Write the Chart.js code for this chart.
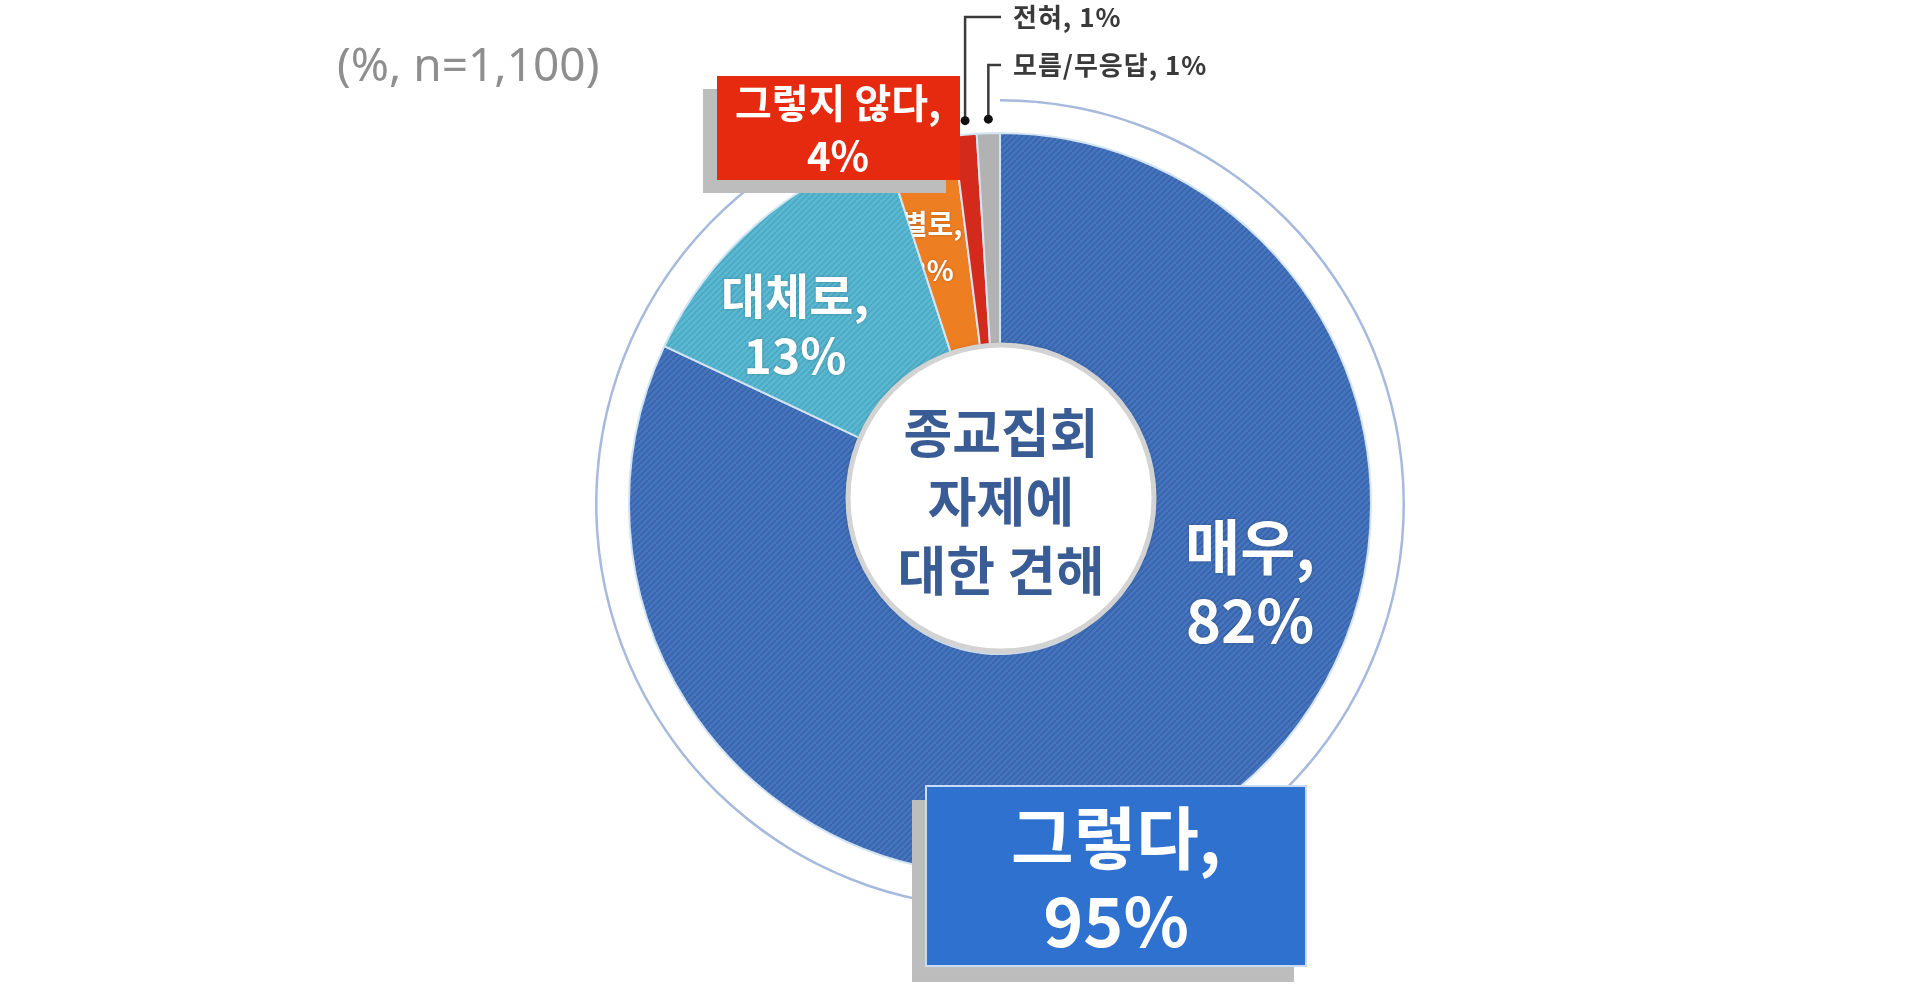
<!DOCTYPE html>
<html>
<head>
<meta charset="utf-8">
<script src="https://cdn.jsdelivr.net/npm/chart.js@4.4.0/dist/chart.umd.min.js"></script>
<style>
  html, body { margin: 0; padding: 0; background: #fff; }
  #wrap { width: 1920px; height: 996px; }
</style>
</head>
<body>
<div id="wrap"><canvas id="pie" width="1920" height="996" style="width:1920px;height:996px"></canvas></div>
<script>
// answers, clockwise from 12 o'clock
const categories = ["매우", "대체로", "별로", "전혀", "모름/무응답"];
const shares = [82, 13, 3, 1, 1];
// grouped answers (outer ring only marks the first one)
const groups = ["그렇다", "그렇지 않다", "모름/무응답"];
const groupShares = [95, 4, 1];
const note = "(%, n=1,100)";
const centerTitle = ["종교집회", "자제에", "대한 견해"];

const KR = "'Noto Sans CJK KR', 'Noto Sans', sans-serif";

// little diagonal hatch like the office-style fill
function hatch(base, line) {
  const c = document.createElement("canvas");
  c.width = c.height = 6;
  const g = c.getContext("2d");
  g.fillStyle = base;
  g.fillRect(0, 0, 6, 6);
  g.strokeStyle = line;
  g.lineWidth = 1.4;
  g.beginPath();
  g.moveTo(0, 6); g.lineTo(6, 0);
  g.moveTo(-3, 3); g.lineTo(3, -3);
  g.moveTo(3, 9); g.lineTo(9, 3);
  g.stroke();
  return g.createPattern(c, "repeat");
}

const sliceColors = [
  hatch("#4575BE", "#3761A6"),
  hatch("#5AB8D1", "#49A6C0"),
  "#EE7E22",
  "#D42A1C",
  "#B2B2B2",
];

function box(ctx, x, y, w, h, fill, shadow, dx, dy) {
  ctx.fillStyle = shadow;
  ctx.fillRect(x + dx, y + dy, w, h);
  ctx.fillStyle = fill;
  ctx.fillRect(x, y, w, h);
}

function lines(ctx, txt, x, y, gap) {
  txt.forEach((t, i) => ctx.fillText(t, x, y + i * gap));
}

const decorations = {
  id: "decorations",
  afterDatasetsDraw(chart) {
    const ctx = chart.ctx;
    const meta = chart.getDatasetMeta(2);
    const first = meta.data[0].getProps(["x", "y", "outerRadius"], true);
    const cx = first.x, cy = first.y, R = first.outerRadius;
    ctx.save();
    ctx.textAlign = "center";
    ctx.textBaseline = "middle";

    // center disc
    ctx.beginPath();
    ctx.arc(cx + 1, cy - 6, 153, 0, Math.PI * 2);
    ctx.fillStyle = "#ffffff";
    ctx.shadowColor = "rgba(0,0,0,0.25)";
    ctx.shadowBlur = 6;
    ctx.fill();
    ctx.shadowBlur = 0;
    ctx.lineWidth = 5;
    ctx.strokeStyle = "#D3D3D3";
    ctx.stroke();
    ctx.fillStyle = "#3A5C94";
    ctx.font = "bold 53px " + KR;
    lines(ctx, centerTitle, cx + 1, cy - 71, 69);

    // slice labels
    ctx.fillStyle = "#ffffff";
    ctx.shadowColor = "rgba(0,0,0,0.25)";
    ctx.shadowBlur = 3;
    ctx.font = "bold 60px " + KR;
    lines(ctx, [categories[0] + ",", shares[0] + "%"], cx + 250, cy + 43, 73);
    ctx.font = "bold 48px " + KR;
    lines(ctx, [categories[1] + ",", shares[1] + "%"], cx - 205, cy - 208, 60);

    // 별로 label, cut by its own slice
    const o = meta.data[2].getProps(["x", "y", "startAngle", "endAngle", "innerRadius", "outerRadius"], true);
    ctx.save();
    ctx.beginPath();
    ctx.arc(o.x, o.y, o.outerRadius, o.startAngle, o.endAngle);
    ctx.arc(o.x, o.y, o.innerRadius, o.endAngle, o.startAngle, true);
    ctx.closePath();
    ctx.clip();
    ctx.font = "bold 28px " + KR;
    lines(ctx, [categories[2] + ",", shares[2] + "%"], cx - 68, cy - 280, 46);
    ctx.restore();
    ctx.shadowBlur = 0;

    // group boxes
    box(ctx, 717, 76, 243, 104, "#E52A10", "#BDBDBD", -14, 13);
    ctx.fillStyle = "#ffffff";
    ctx.font = "bold 40px " + KR;
    lines(ctx, [groups[1] + ",", groupShares[1] + "%"], 838, 103, 53);

    box(ctx, 925, 785, 382, 182, "#2F71CE", "#BDBDBD", -13, 15);
    ctx.strokeStyle = "#C9DBF2";
    ctx.lineWidth = 2;
    ctx.strokeRect(926, 786, 380, 180);
    ctx.fillStyle = "#ffffff";
    ctx.font = "bold 68px " + KR;
    lines(ctx, [groups[0] + ",", groupShares[0] + "%"], 1116, 838, 83);

    // leader lines for the two thin slices
    const labelX = 1013;
    [[3, 17], [4, 65]].forEach(([i, ly]) => {
      const a = meta.data[i].getProps(["startAngle", "endAngle"], true);
      const mid = (a.startAngle + a.endAngle) / 2;
      const px = cx + Math.cos(mid) * R;
      const py = cy + Math.sin(mid) * R - 14;
      ctx.strokeStyle = "#3a3a3a";
      ctx.lineWidth = 2.5;
      ctx.beginPath();
      ctx.moveTo(px, py);
      ctx.lineTo(px, ly);
      ctx.lineTo(labelX - 12, ly);
      ctx.stroke();
      ctx.fillStyle = "#111";
      ctx.beginPath();
      ctx.arc(px, py, 4.5, 0, Math.PI * 2);
      ctx.fill();
      ctx.fillStyle = "#3a3a3a";
      ctx.textAlign = "left";
      ctx.font = "bold 26px " + KR;
      ctx.letterSpacing = "1px";
      ctx.fillText(categories[i] + ", " + shares[i] + "%", labelX, ly);
      ctx.letterSpacing = "0px";
      ctx.textAlign = "center";
    });

    // sample note
    ctx.textAlign = "left";
    ctx.fillStyle = "#8E8E8E";
    ctx.font = "46px 'Noto Sans', " + KR;
    ctx.fillText(note, 337, 68);
    ctx.restore();
  },
};

new Chart(document.getElementById("pie"), {
  type: "doughnut",
  data: {
    labels: categories,
    datasets: [
      {
        // thin outline ring for 그렇다
        data: groupShares,
        backgroundColor: ["#A7BADD", "rgba(0,0,0,0)", "rgba(0,0,0,0)"],
        borderWidth: 0,
        weight: 2.5,
      },
      {
        data: [100],
        backgroundColor: ["rgba(0,0,0,0)"],
        borderWidth: 0,
        weight: 31.5,
      },
      {
        data: shares,
        backgroundColor: sliceColors,
        borderColor: "#D3E4F2",
        borderWidth: 2,
        weight: 221,
      },
    ],
  },
  options: {
    responsive: false,
    animation: false,
    cutout: 150,
    hoverOffset: 0,
    layout: { padding: { top: 99, bottom: 87, left: 80, right: 0 } },
    plugins: {
      legend: { display: false },
      tooltip: { enabled: false },
    },
  },
  plugins: [decorations],
});
</script>
</body>
</html>
